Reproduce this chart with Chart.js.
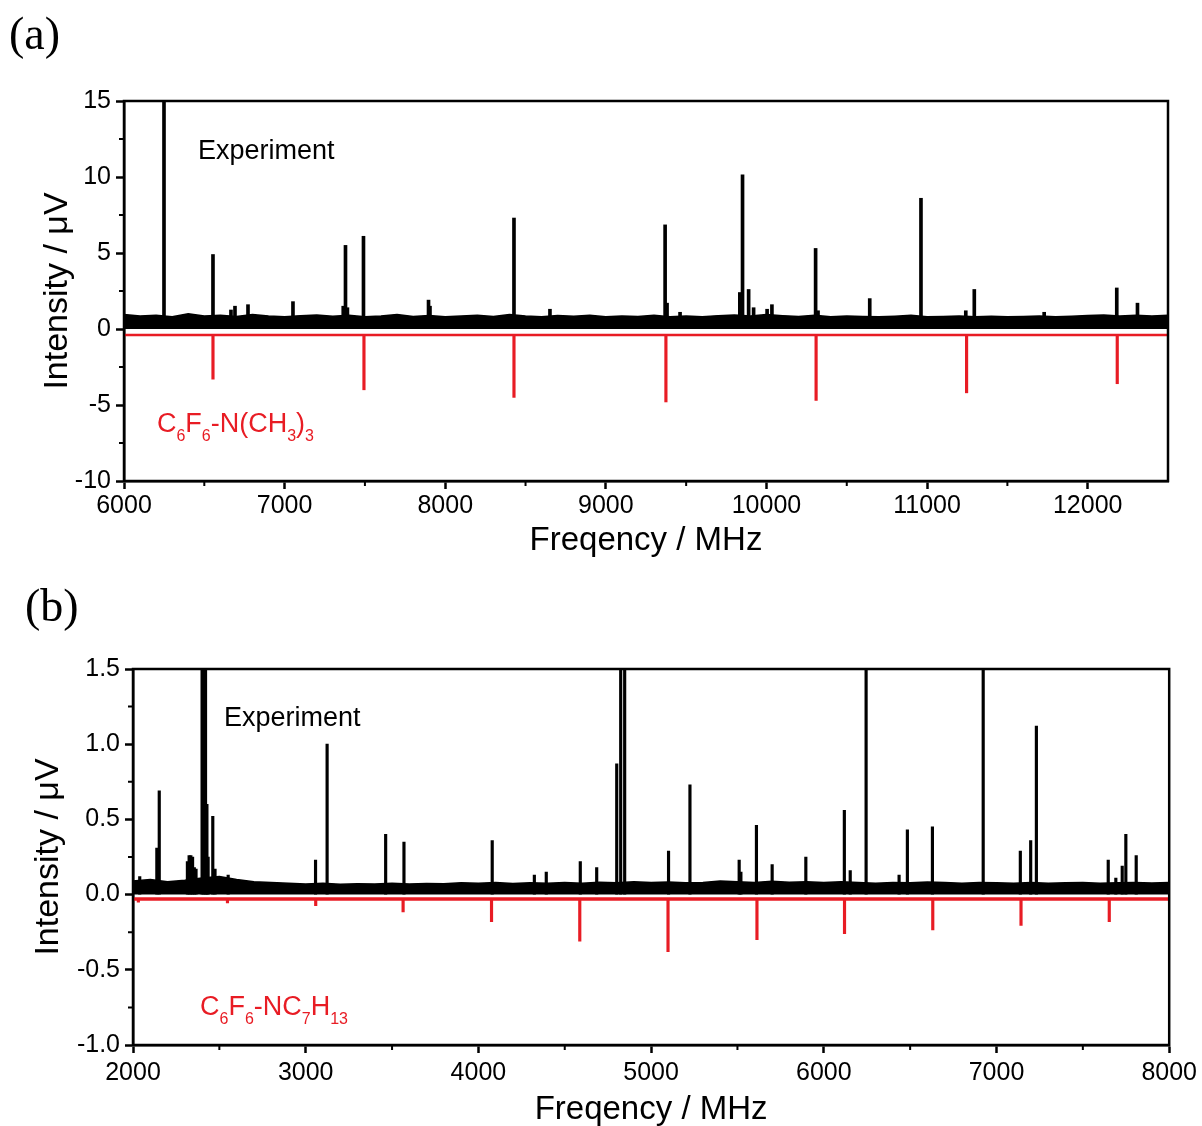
<!DOCTYPE html>
<html>
<head>
<meta charset="utf-8">
<script src="https://cdn.jsdelivr.net/npm/chart.js@4.4.1/dist/chart.umd.min.js"></script>
<style>
  html, body { margin: 0; padding: 0; background: #fff; }
  #wrap { position: relative; width: 1202px; height: 1126px; overflow: hidden; }
  canvas { position: absolute; left: 0; }
  #cA { top: 0; }
  #cB { top: 563px; }
  .tag { position: absolute; font-family: 'Liberation Serif', 'Times New Roman', serif; font-size: 46px; line-height: 1; }
</style>
</head>
<body>
<div id="wrap">
  <canvas id="cA" width="1202" height="563"></canvas>
  <canvas id="cB" width="1202" height="563"></canvas>
  <div class="tag" style="left:9px; top:11px">(a)</div>
  <div class="tag" style="left:25px; top:583px">(b)</div>
</div>
<script>
// ---- panel (a): C6F6-N(CH3)3 ----
const xRangeA = [6000, 12500];
const yRangeA = [-10, 15];
const xTicksA = [6000, 7000, 8000, 9000, 10000, 11000, 12000];
const xMinorA = [6500, 7500, 8500, 9500, 10500, 11500];
const yTicksA = [-10, -5, 0, 5, 10, 15];
const yMinorA = [-7.5, -2.5, 2.5, 7.5, 12.5];

// experimental lines (MHz, µV)
const peakFreqA = [6249, 6554, 6666, 6691, 6772, 7052, 7365, 7379, 7391, 7491, 7896, 7905,
                   8428, 8652, 9369, 9381, 9462, 9834, 9851, 9889, 9920, 10004, 10034,
                   10306, 10321, 10643, 10962, 11241, 11294, 11729, 12181, 12310];
const peakIntA  = [16, 4.9, 1.25, 1.5, 1.6, 1.8, 1.5, 5.5, 1.4, 6.1, 1.9, 1.5,
                   7.3, 1.3, 6.85, 1.7, 1.1, 2.4, 10.15, 2.6, 1.4, 1.3, 1.6,
                   5.3, 1.2, 2.0, 8.6, 1.2, 2.6, 1.1, 2.7, 1.7];

// top edge of the noise floor
const noiseFreqA = [6000, 6100, 6200, 6300, 6400, 6500, 6600, 6700, 6800, 6900,
                    7000, 7100, 7200, 7300, 7400, 7500, 7600, 7700, 7800, 7900,
                    8000, 8100, 8200, 8300, 8400, 8500, 8600, 8700, 8800, 8900,
                    9000, 9100, 9200, 9300, 9400, 9500, 9600, 9700, 9800, 9900,
                    10000, 10100, 10200, 10300, 10400, 10500, 10600, 10700, 10800, 10900,
                    11000, 11100, 11200, 11300, 11400, 11500, 11600, 11700, 11800, 11900,
                    12000, 12100, 12200, 12300, 12400, 12500];
const noiseTopA  = [0.95, 0.85, 0.9, 0.8, 1.0, 0.85, 0.9, 0.82, 0.95, 0.85,
                    0.8, 0.88, 0.92, 0.84, 0.9, 0.8, 0.86, 0.95, 0.82, 0.88,
                    0.8, 0.85, 0.9, 0.82, 0.95, 0.85, 0.8, 0.88, 0.84, 0.9,
                    0.8, 0.86, 0.82, 0.9, 0.8, 0.85, 0.8, 0.88, 0.92, 0.85,
                    0.95, 0.88, 0.82, 0.9, 0.8, 0.86, 0.82, 0.8, 0.84, 0.9,
                    0.8, 0.82, 0.86, 0.8, 0.84, 0.8, 0.82, 0.85, 0.8, 0.84,
                    0.88, 0.92, 0.85, 0.9, 0.86, 0.9];

// simulated stick spectrum (drawn downward)
const simBaseA = -0.4;
const simFreqA = [6554, 7494, 8428, 9374, 10309, 11246, 12184];
const simIntA  = [-3.3, -4.0, -4.5, -4.8, -4.7, -4.2, -3.6];

// ---- panel (b): C6F6-NC7H13 ----
const xRangeB = [2000, 8000];
const yRangeB = [-1.0, 1.5];
const xTicksB = [2000, 3000, 4000, 5000, 6000, 7000, 8000];
const xMinorB = [2500, 3500, 4500, 5500, 6500, 7500];
const yTicksB = [-1.0, -0.5, 0.0, 0.5, 1.0, 1.5];
const yMinorB = [-0.75, -0.25, 0.25, 0.75, 1.25];

const peakFreqB = [2039, 2138, 2152, 2315, 2325, 2335, 2345, 2355, 2365, 2400, 2410, 2420,
                   2428, 2435, 2462, 2475, 2551, 3057, 3124, 3463, 3569, 4080, 4324, 4393,
                   4590, 4685, 4801, 4824, 4847, 5101, 5225, 5510, 5520, 5610, 5701, 5896,
                   6119, 6153, 6245, 6436, 6484, 6629, 6923, 7138, 7198, 7231, 7647, 7691,
                   7728, 7749, 7809];
const peakIntB  = [0.12, 0.31, 0.69, 0.22, 0.26, 0.26, 0.25, 0.18, 0.17, 2.0, 2.0, 2.0,
                   0.6, 0.25, 0.52, 0.17, 0.13, 0.23, 1.0, 0.4, 0.35, 0.36, 0.13, 0.15,
                   0.22, 0.18, 0.87, 2.0, 2.0, 0.29, 0.73, 0.23, 0.15, 0.46, 0.2, 0.25,
                   0.56, 0.16, 2.0, 0.13, 0.43, 0.45, 2.0, 0.29, 0.36, 1.12, 0.23, 0.11,
                   0.19, 0.4, 0.26];

const noiseFreqB = [2000, 2100, 2200, 2300, 2400, 2500, 2600, 2700, 2800, 2900,
                    3000, 3100, 3200, 3300, 3400, 3500, 3600, 3700, 3800, 3900,
                    4000, 4100, 4200, 4300, 4400, 4500, 4600, 4700, 4800, 4900,
                    5000, 5100, 5200, 5300, 5400, 5500, 5600, 5700, 5800, 5900,
                    6000, 6100, 6200, 6300, 6400, 6500, 6600, 6700, 6800, 6900,
                    7000, 7100, 7200, 7300, 7400, 7500, 7600, 7700, 7800, 7900, 8000];
const noiseTopB  = [0.09, 0.1, 0.085, 0.095, 0.11, 0.12, 0.1, 0.085, 0.08, 0.075,
                    0.07, 0.075, 0.068, 0.072, 0.07, 0.075, 0.07, 0.074, 0.072, 0.078,
                    0.075, 0.08, 0.074, 0.078, 0.076, 0.08, 0.075, 0.082, 0.078, 0.085,
                    0.08, 0.083, 0.078, 0.08, 0.09, 0.085, 0.08, 0.088, 0.082, 0.086,
                    0.08, 0.085, 0.08, 0.075, 0.08, 0.078, 0.083, 0.08, 0.075, 0.08,
                    0.078, 0.076, 0.08, 0.075, 0.078, 0.08, 0.076, 0.078, 0.08, 0.077, 0.08];

const simBaseB = -0.03;
const simFreqB = [2031, 2547, 3058, 3564, 4076, 4587, 5098, 5613, 6120, 6631, 7142, 7653];
const simIntB  = [-0.05, -0.055, -0.073, -0.115, -0.18, -0.31, -0.38, -0.30, -0.26, -0.235, -0.205, -0.18];

const RED = 'rgb(232, 28, 36)';
const SANS = "'Liberation Sans', Arial, sans-serif";
const NARROW = "'Liberation Sans Narrow', 'Liberation Sans', Arial, sans-serif";

// frame, minor ticks and the in-plot labels
const framePlugin = {
    id: 'frame',
    afterDraw(chart, args, opts) {
        const { ctx, chartArea: a, scales: { x, y } } = chart;
        ctx.save();
        ctx.strokeStyle = '#000';
        ctx.lineWidth = 2.5;
        ctx.strokeRect(a.left, a.top, a.right - a.left, a.bottom - a.top);
        ctx.lineWidth = 2;
        ctx.beginPath();
        opts.xMinor.forEach(v => {
            const px = x.getPixelForValue(v);
            ctx.moveTo(px, a.bottom);
            ctx.lineTo(px, a.bottom + 5);
        });
        opts.yMinor.forEach(v => {
            const py = y.getPixelForValue(v);
            ctx.moveTo(a.left, py);
            ctx.lineTo(a.left - 5, py);
        });
        ctx.stroke();

        // "Experiment"
        ctx.fillStyle = '#000';
        ctx.textBaseline = 'middle';
        ctx.textAlign = 'left';
        ctx.font = '27px ' + SANS;
        ctx.fillText('Experiment', x.getPixelForValue(opts.expLabel[0]), y.getPixelForValue(opts.expLabel[1]));

        // molecule name with subscripts
        let px = x.getPixelForValue(opts.molLabel[0]);
        const py = y.getPixelForValue(opts.molLabel[1]);
        ctx.fillStyle = RED;
        opts.molParts.forEach(([txt, sub]) => {
            ctx.font = (sub ? '16px ' : '27px ') + SANS;
            ctx.fillText(txt, px, sub ? py + 12 : py);
            px += ctx.measureText(txt).width;
        });
        ctx.restore();
    }
};

function makeChart(id, cfg) {
    const ctx = document.getElementById(id).getContext('2d');
    const peaks = cfg.peakFreq.map((f, i) => ({ x: f, y: cfg.peakInt[i] }));
    const sims = cfg.simFreq.map((f, i) => ({ x: f, y: [cfg.simBase, cfg.simInt[i]] }));
    const noise = cfg.noiseFreq.map((f, i) => ({ x: f, y: cfg.noiseTop[i] }));
    const baseline = cfg.xRange.map(f => ({ x: f, y: cfg.simBase }));

    new Chart(ctx, {
        type: 'bar',
        data: {
            datasets: [
                {
                    type: 'line',
                    data: baseline,
                    borderColor: RED,
                    borderWidth: cfg.baseWidth,
                    pointRadius: 0,
                    fill: false
                },
                {
                    data: sims,
                    backgroundColor: RED,
                    borderWidth: 0,
                    barThickness: 2.5,
                    grouped: false
                },
                {
                    data: peaks,
                    backgroundColor: '#000',
                    borderWidth: 0,
                    barThickness: cfg.peakWidth,
                    grouped: false,
                    base: 0
                },
                {
                    type: 'line',
                    data: noise,
                    borderColor: '#000',
                    backgroundColor: '#000',
                    borderWidth: 1.5,
                    pointRadius: 0,
                    tension: 0,
                    fill: 'origin'
                }
            ]
        },
        options: {
            responsive: false,
            animation: false,
            layout: { padding: cfg.padding },
            plugins: {
                legend: { display: false },
                tooltip: { enabled: false },
                frame: {
                    xMinor: cfg.xMinor,
                    yMinor: cfg.yMinor,
                    expLabel: cfg.expLabel,
                    molLabel: cfg.molLabel,
                    molParts: cfg.molParts
                }
            },
            scales: {
                x: {
                    type: 'linear',
                    offset: false,
                    min: cfg.xRange[0],
                    max: cfg.xRange[1],
                    afterBuildTicks: s => { s.ticks = cfg.xTicks.map(v => ({ value: v })); },
                    afterFit: s => { s.height = cfg.xHeight; },
                    grid: { offset: false, drawOnChartArea: false, tickLength: 8, tickWidth: 2.5, color: '#000' },
                    border: { display: true, color: '#000', width: 2.5 },
                    ticks: {
                        color: '#000',
                        padding: cfg.xTickPad,
                        maxRotation: 0,
                        font: { family: NARROW, size: 25 },
                        callback: v => String(v)
                    },
                    title: {
                        display: true,
                        text: 'Freqency / MHz',
                        color: '#000',
                        font: { family: SANS, size: 33 },
                        padding: { top: 0, bottom: cfg.xTitlePad }
                    }
                },
                y: {
                    min: cfg.yRange[0],
                    max: cfg.yRange[1],
                    afterBuildTicks: s => { s.ticks = cfg.yTicks.map(v => ({ value: v })); },
                    afterFit: s => { s.width = cfg.yWidth; },
                    grid: { drawOnChartArea: false, tickLength: 8, tickWidth: 2.5, color: '#000' },
                    border: { display: true, color: '#000', width: 2.5 },
                    ticks: {
                        color: '#000',
                        padding: 5,
                        font: { family: NARROW, size: 25 },
                        callback: v => v.toFixed(cfg.yDecimals)
                    },
                    title: {
                        display: true,
                        text: 'Intensity / \u03bcV',
                        color: '#000',
                        font: { family: SANS, size: 34 },
                        padding: { top: cfg.yTitlePad, bottom: 0 }
                    }
                }
            }
        },
        plugins: [framePlugin]
    });
}

makeChart('cA', {
    xRange: xRangeA, yRange: yRangeA, xTicks: xTicksA, yTicks: yTicksA,
    xMinor: xMinorA, yMinor: yMinorA,
    peakFreq: peakFreqA, peakInt: peakIntA,
    noiseFreq: noiseFreqA, noiseTop: noiseTopA,
    simBase: simBaseA, simFreq: simFreqA, simInt: simIntA,
    padding: { top: 101, right: 34, left: 0, bottom: 0 },
    yWidth: 124, xHeight: 82, xTickPad: 2, xTitlePad: 2, yTitlePad: 37,
    yDecimals: 0, peakWidth: 3, baseWidth: 2.5,
    expLabel: [6461, 11.7], molLabel: [6205, -6.3],
    molParts: [['C', 0], ['6', 1], ['F', 0], ['6', 1], ['-N(CH', 0], ['3', 1], [')', 0], ['3', 1]]
});

makeChart('cB', {
    xRange: xRangeB, yRange: yRangeB, xTicks: xTicksB, yTicks: yTicksB,
    xMinor: xMinorB, yMinor: yMinorB,
    peakFreq: peakFreqB, peakInt: peakIntB,
    noiseFreq: noiseFreqB, noiseTop: noiseTopB,
    simBase: simBaseB, simFreq: simFreqB, simInt: simIntB,
    padding: { top: 106, right: 32, left: 0, bottom: 0 },
    yWidth: 133, xHeight: 81, xTickPad: 5, xTitlePad: -4, yTitlePad: 28,
    yDecimals: 1, peakWidth: 2.5, baseWidth: 3.5,
    expLabel: [2527, 1.17], molLabel: [2388, -0.75],
    molParts: [['C', 0], ['6', 1], ['F', 0], ['6', 1], ['-NC', 0], ['7', 1], ['H', 0], ['13', 1]]
});
</script>
</body>
</html>
